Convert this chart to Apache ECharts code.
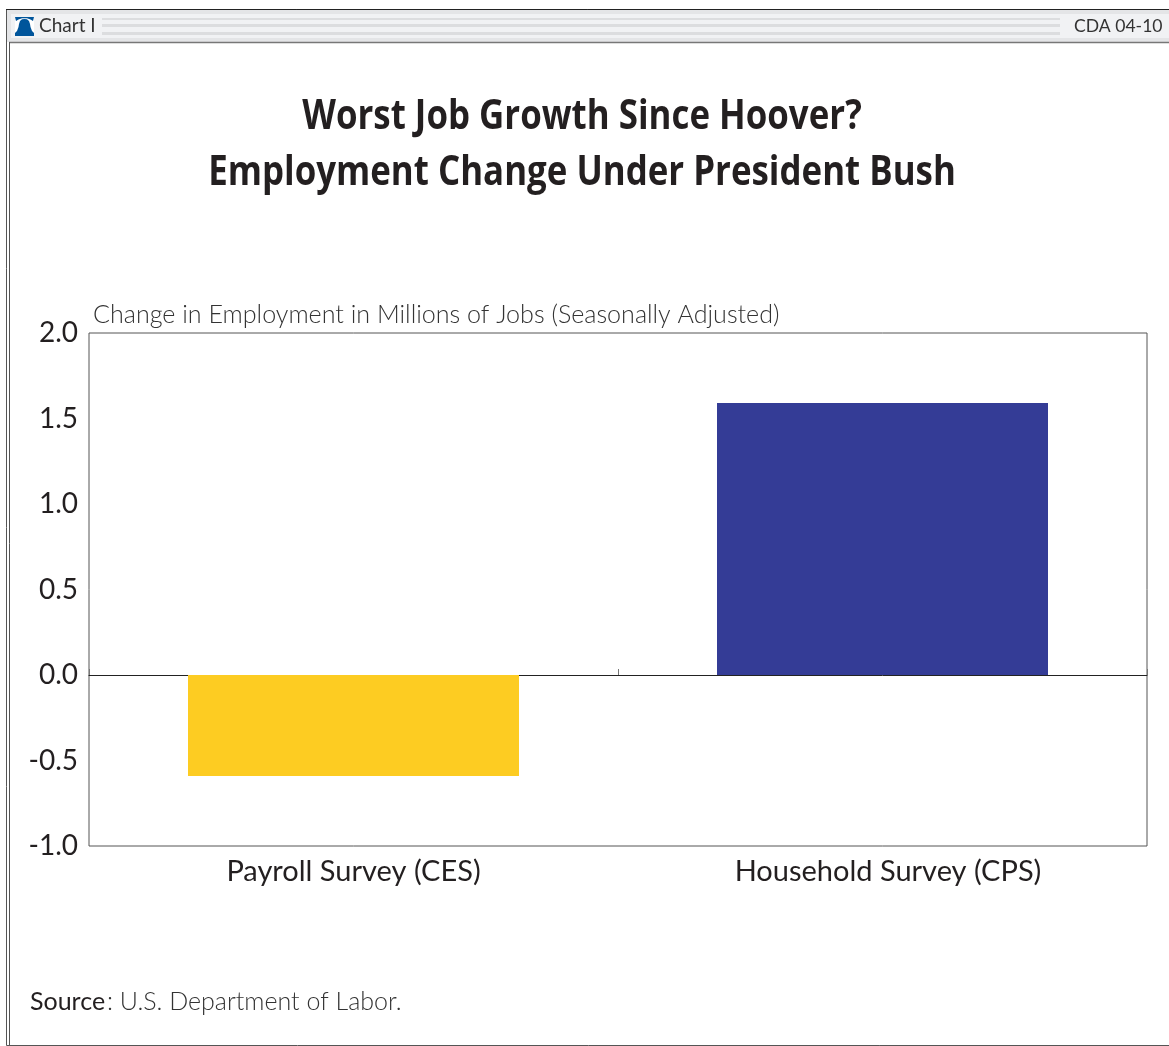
<!DOCTYPE html>
<html>
<head>
<meta charset="utf-8">
<style>html,body{margin:0;padding:0;background:#fff}#chart{width:1169px;height:1046px}</style>
<script src="https://cdn.jsdelivr.net/npm/echarts@6/dist/echarts.min.js"></script>
</head>
<body>
<div id="chart"></div>
<script>
// Employment change under President Bush, in millions of jobs
const categories = ['Payroll Survey (CES)', 'Household Survey (CPS)'];
const employmentChange = [-0.59, 1.59];
const barColors = ['#FDCC22', '#343C96'];
const titleLines = ['Worst Job Growth Since Hoover?', 'Employment Change Under President Bush'];
const unitLabel = 'Change in Employment in Millions of Jobs (Seasonally Adjusted)';
const bodyFont = 'Lato';
const inkColor = '#231F20';

// Header strip: frame, bell badge and ruled bands
const headerBands = [[18, 2], [24, 3], [32, 3]];
const bellBody = [[24.5,19],[27,19.3],[29,21],[30,24],[30.5,27],[32,31],[34,33],[34,36],[15,36],[15,33],[17,31],[18.5,27],[19,24],[20,21],[22,19.3]];
const bellCap = [[15,17],[34,17],[33,21],[30.5,19.5],[27,18.3],[22,18.3],[18.5,19.5],[16,21]];
const frameParts = [
  { type: 'rect', shape: { x: 6.5, y: 9.5, width: 1170, height: 1036 }, style: { fill: 'none', stroke: '#555', lineWidth: 1 } },
  { type: 'rect', shape: { x: 7, y: 10, width: 1170, height: 32 }, style: { fill: '#E4E5E7' } },
  { type: 'rect', shape: { x: 11, y: 14, width: 1160, height: 24 }, style: { fill: '#F1F2F4' } },
  { type: 'line', shape: { x1: 6, y1: 9.5, x2: 1169, y2: 9.5 }, style: { stroke: '#222', lineWidth: 1 } },
  { type: 'line', shape: { x1: 9, y1: 42.5, x2: 1169, y2: 42.5 }, style: { stroke: '#777', lineWidth: 1.5 } },
  { type: 'line', shape: { x1: 9.5, y1: 42, x2: 9.5, y2: 1045 }, style: { stroke: '#555', lineWidth: 1 } }
];
headerBands.forEach(([y, h]) => frameParts.push({
  type: 'rect', shape: { x: 102, y: y, width: 958, height: h }, style: { fill: '#DCDDDF' }
}));
frameParts.push(
  { type: 'rect', shape: { x: 15, y: 17, width: 19, height: 19 }, style: { fill: '#fff' } },
  { type: 'polygon', shape: { points: bellCap }, style: { fill: '#00559B' } },
  { type: 'polygon', shape: { points: bellBody }, style: { fill: '#00559B' } }
);

const texts = [
  { text: 'Chart I', x: 39, y: 26, font: '400 19px ' + bodyFont, fill: '#333', align: 'left' },
  { text: 'CDA 04-10', x: 1074, y: 26, font: '400 17.6px ' + bodyFont, fill: '#333', align: 'left' },
  { text: unitLabel, x: 93, y: 315, font: '300 25.1px ' + bodyFont, fill: '#333', align: 'left' }
].map(t => ({
  type: 'text',
  style: { text: t.text, x: t.x, y: t.y, font: t.font, fill: t.fill, textAlign: t.align, textVerticalAlign: 'middle' }
}));
const sourceParts = [
  { type: 'text', style: { text: 'Source', x: 30, y: 1002, font: '400 25px ' + bodyFont, fill: inkColor, textVerticalAlign: 'middle' } },
  { type: 'text', style: { text: ': U.S. Department of Labor.', x: 107, y: 1002, font: '300 25px ' + bodyFont, fill: '#333', textVerticalAlign: 'middle' } }
];
// Narrowed bold heading lines
const headingParts = titleLines.map((line, i) => ({
  type: 'text', x: 582, y: 117 + i * 56, scaleX: 0.84,
  style: { text: line, x: 0, y: 0, font: 'bold 41.5px "Open Sans"', fill: inkColor, textAlign: 'center', textVerticalAlign: 'middle' }
}));

const chart = echarts.init(document.getElementById('chart'), null, { renderer: 'canvas' });
chart.setOption({
  animation: false,
  backgroundColor: '#fff',
  grid: {
    left: 89, right: 22, top: 333, bottom: 200,
    show: true, borderColor: '#555', borderWidth: 1, backgroundColor: 'transparent'
  },
  xAxis: [
    {
      type: 'category',
      data: categories,
      position: 'bottom',
      axisLine: { show: false, onZero: false },
      axisTick: { show: false },
      axisLabel: {
        interval: 0,
        hideOverlap: false,
        fontFamily: bodyFont, fontSize: 29, color: inkColor, margin: 11,
        formatter: (value, index) => (index === 1 ? '{shifted|' + value + '}' : value),
        rich: { shifted: { fontFamily: bodyFont, fontSize: 29, color: inkColor, padding: [0, 0, 0, 11] } }
      }
    },
    {
      type: 'category',
      data: categories,
      axisLine: { onZero: true, lineStyle: { color: '#222', width: 1 } },
      axisTick: { show: true, inside: false, length: 6, lineStyle: { color: '#777', width: 1 } },
      axisLabel: { show: false }
    }
  ],
  yAxis: {
    type: 'value',
    min: -1,
    max: 2,
    interval: 0.5,
    axisLine: { show: false },
    axisTick: { show: false },
    splitLine: { show: false },
    axisLabel: {
      fontFamily: bodyFont, fontSize: 28, color: inkColor, margin: 11,
      formatter: v => v.toFixed(1)
    }
  },
  series: [{
    type: 'bar',
    xAxisIndex: 0,
    barWidth: 331,
    data: employmentChange.map((value, i) => ({ value, itemStyle: { color: barColors[i] } }))
  }],
  graphic: { elements: [
    { type: 'group', silent: true, children: frameParts },
    { type: 'group', silent: true, children: texts.concat(sourceParts, headingParts) }
  ] }
});
</script>
</body>
</html>
